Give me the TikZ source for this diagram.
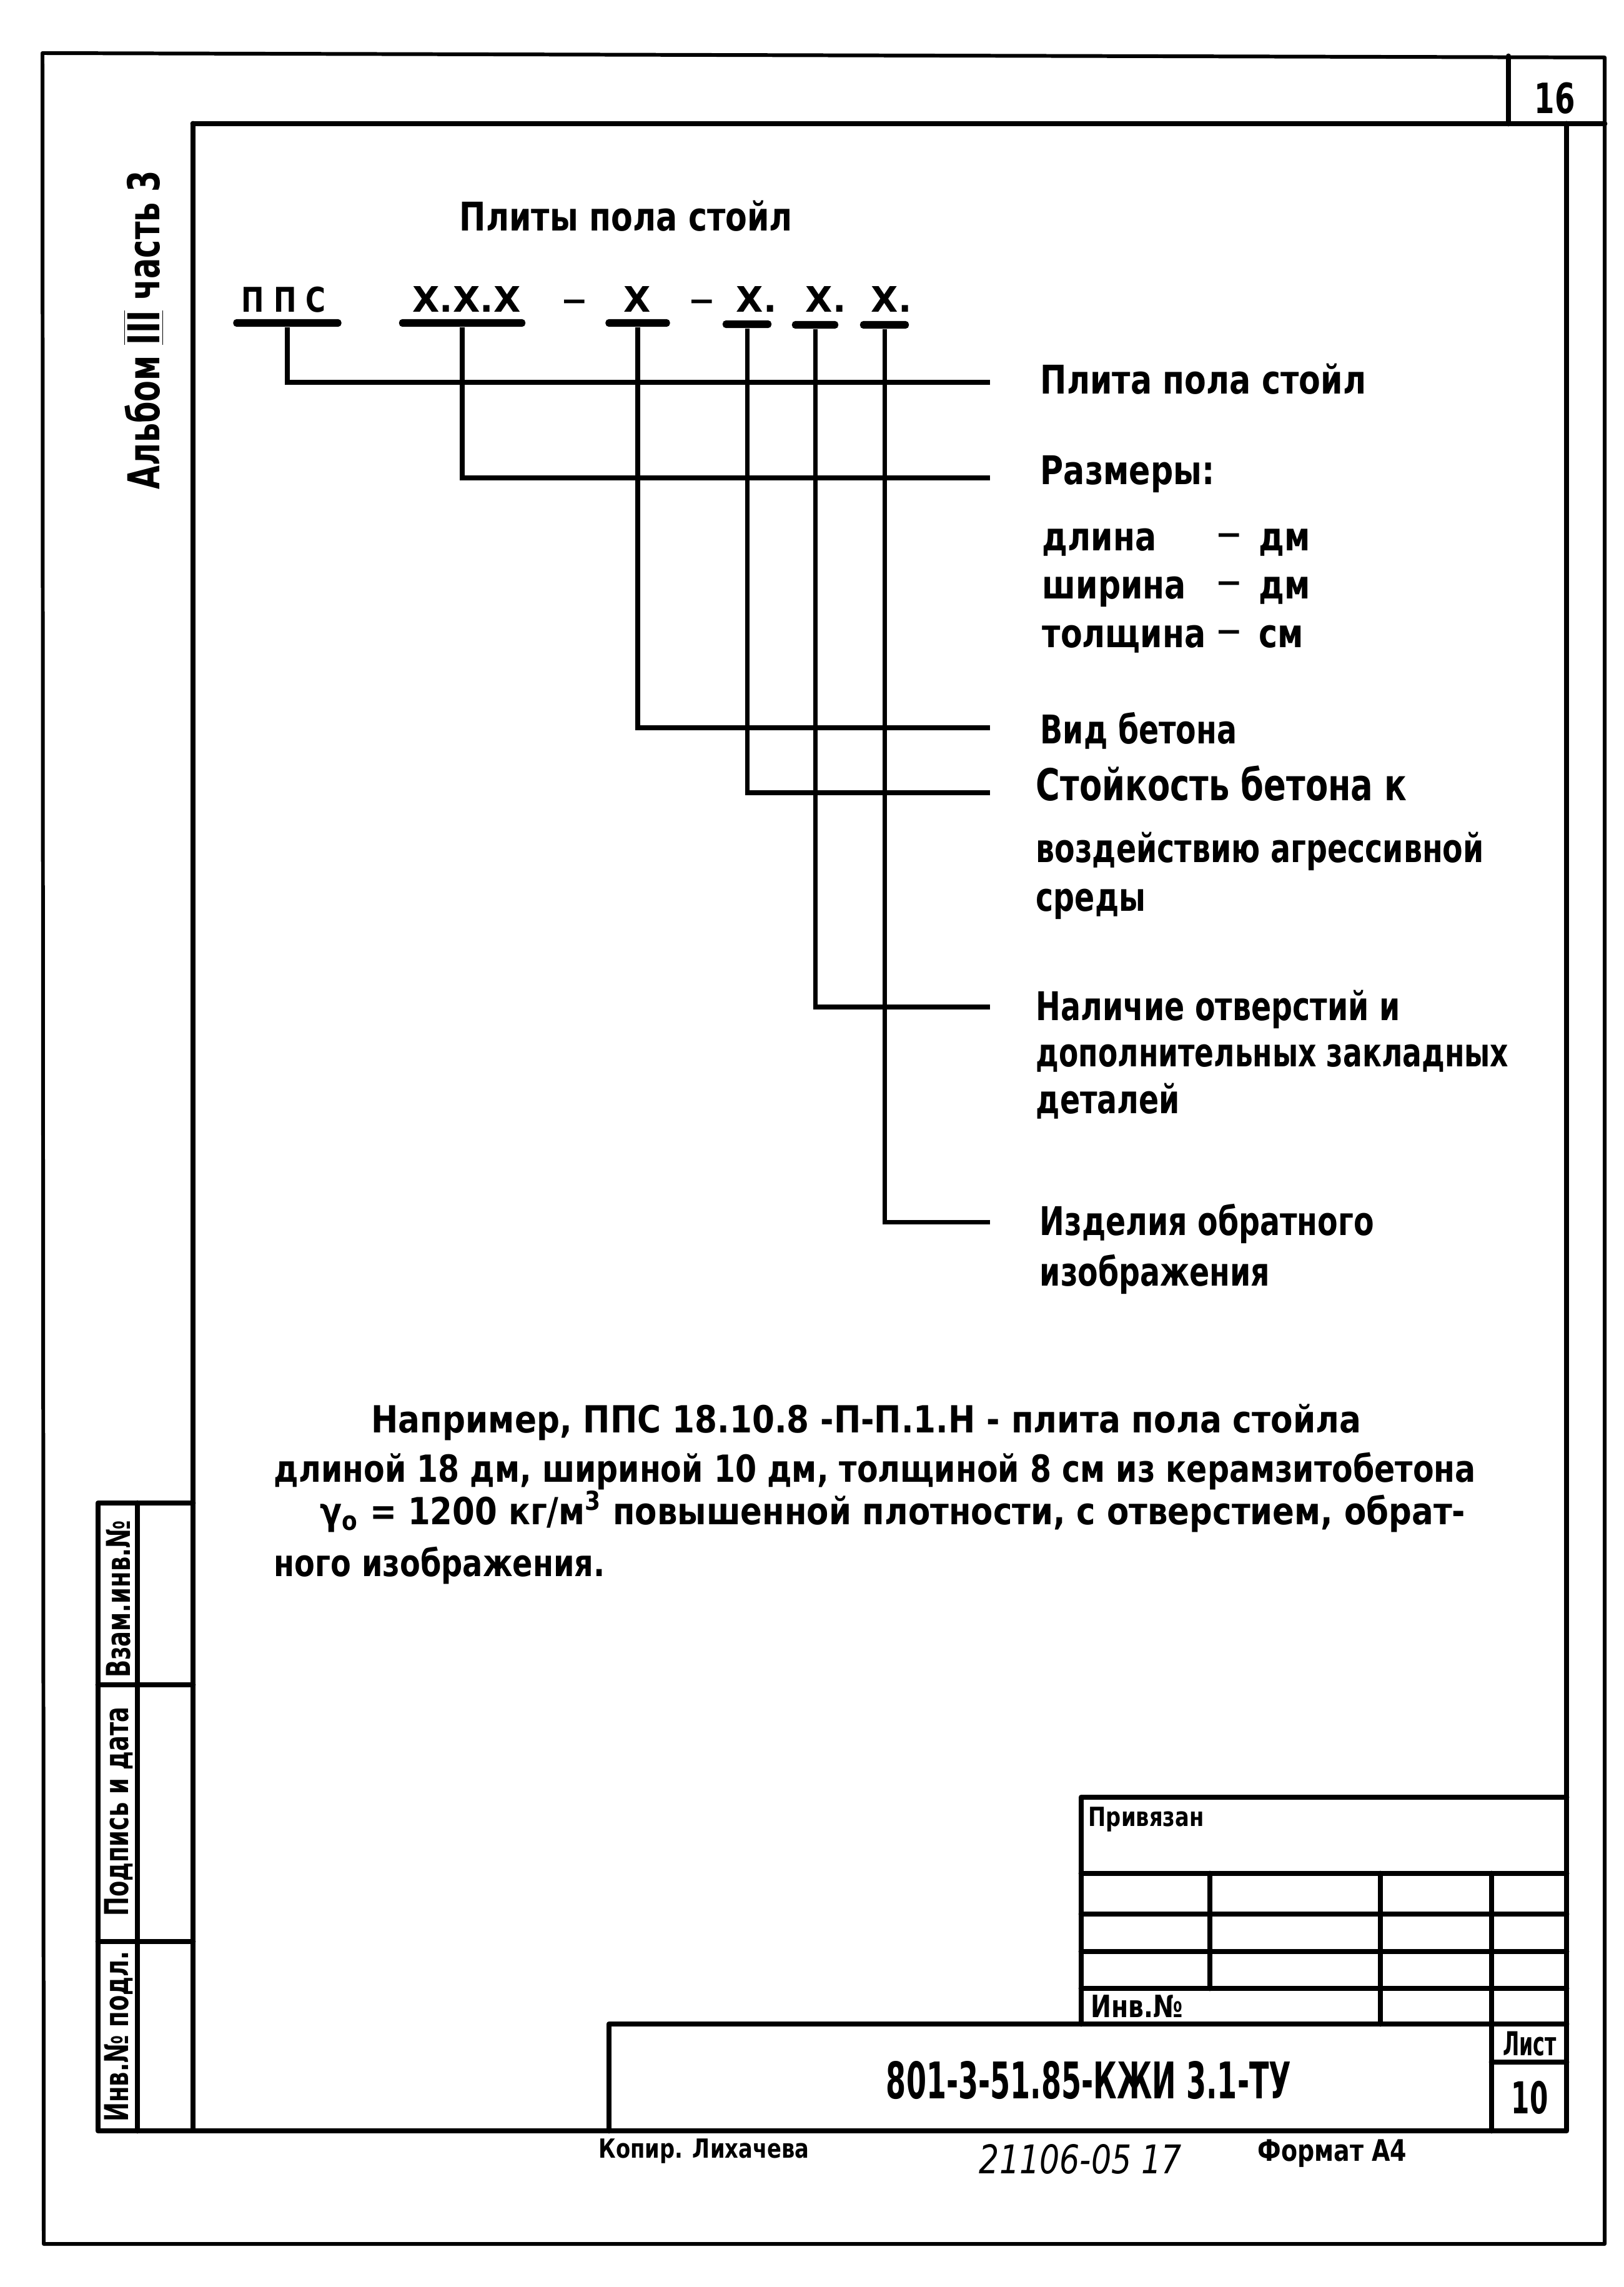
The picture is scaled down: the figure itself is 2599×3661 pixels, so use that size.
\documentclass[tikz,border=0pt]{standalone}
\usepackage{fontspec}
\setmainfont{DejaVu Sans}[FakeStretch=0.8]
\newfontfamily\widefont{DejaVu Sans}
\newfontfamily\lblfont{DejaVu Sans}[FakeStretch=0.75]
\newfontfamily\lblnfont{DejaVu Sans}[FakeStretch=0.72]
\newfontfamily\exafont{DejaVu Sans}[FakeStretch=0.865]
\newfontfamily\exbfont{DejaVu Sans}[FakeStretch=0.82]
\newfontfamily\excfont{DejaVu Sans}[FakeStretch=0.86]
\newfontfamily\midfont{DejaVu Sans}[FakeStretch=0.7]
\newfontfamily\narrowfont{DejaVu Sans}[FakeStretch=0.6]
\newfontfamily\docfont{DejaVu Sans}[FakeStretch=0.57]
\newcommand\myfs[1]{\fontsize{#1}{#1}\selectfont}
\begin{document}
\begin{tikzpicture}[x=0.01cm,y=-0.01cm,
  outer/.style={line width=1.7pt, line join=round},
  frame/.style={line width=2.5pt, line cap=round, line join=round},
  conn/.style={line width=2pt},
  ubar/.style={fill=black, draw=none, minimum height=0.12cm, inner sep=0pt, rounded corners=0.05cm},
  lbl/.style={anchor=base west, inner sep=0pt, font=\bfseries\myfs{18}},
  lblb/.style={anchor=base west, inner sep=0pt, font=\lblfont\bfseries\myfs{18}},
  ex/.style={anchor=base west, inner sep=0pt},
  code/.style={anchor=base, inner sep=0pt, font=\widefont\bfseries\myfs{16}},
  txt/.style={inner sep=0pt}
]
\useasboundingbox (0,0) rectangle (2599,3661);
\fill[white] (0,0) rectangle (2599,3661);

% ---- frames
\draw[outer] (68,85) -- (2569,92) -- (2569,3592) -- (70,3592) -- cycle;
\draw[frame] (309,198) -- (2569,198);
\draw[frame] (309,198) -- (309,3411) -- (2508,3411) -- (2508,198);
\draw[frame] (2415,90) -- (2415,198);
\node[txt, font=\midfont\bfseries\myfs{19}] (sheetno) at (2489,157) {16};

% ---- side label
\node[txt, rotate=90, font=\midfont\bfseries\myfs{20}] (album) at (230,528) {Альбом $\overline{\underline{\hbox{III}}}$ часть 3};

% ---- side stamp box
\draw[frame] (309,2406) -- (157,2406) -- (157,3411) -- (309,3411);
\draw[frame] (220,2406) -- (220,3411);
\draw[frame] (157,2697) -- (309,2697);
\draw[frame] (157,3108) -- (309,3108);
\node[txt, rotate=90, font=\midfont\bfseries\myfs{15}] (s1) at (190,2560) {Взам.инв.№};
\node[txt, rotate=90, font=\midfont\bfseries\myfs{15}] (s2) at (190,2900) {Подпись и дата};
\node[txt, rotate=90, font=\midfont\bfseries\myfs{15}] (s3) at (190,3260) {Инв.№ подл.};

% ---- title
\node[anchor=base west, inner sep=0pt, font=\bfseries\myfs{18}] (title) at (735,370) {Плиты пола стойл};

% ---- code
\node[code, font=\bfseries\myfs{15.5}] (k1) at (454,500) {П П С};
\node[code] (k2) at (747,500) {Х.Х.Х};
\node[code, font=\bfseries\myfs{13}] (d1) at (920,496) {—};
\node[code] (k3) at (1020,500) {Х};
\node[code, font=\bfseries\myfs{13}] (d2) at (1124,496) {—};
\node[code] (k4) at (1211,500) {Х.};
\node[code] (k5) at (1322,500) {Х.};
\node[code] (k6) at (1427,500) {Х.};

\node[ubar, minimum width=1.73cm] (bar1) at (460,517) {};
\node[ubar, minimum width=2.02cm] (bar2) at (740,517) {};
\node[ubar, minimum width=1.03cm] (bar3) at (1021,517) {};
\node[ubar, minimum width=0.78cm] (bar4) at (1196,519) {};
\node[ubar, minimum width=0.74cm] (bar5) at (1305,520) {};
\node[ubar, minimum width=0.78cm] (bar6) at (1416,520) {};

\coordinate (e1) at (1585,612);
\coordinate (e2) at (1585,765);
\coordinate (e3) at (1585,1165);
\coordinate (e4) at (1585,1269);
\coordinate (e5) at (1585,1612);
\coordinate (e6) at (1585,1956);

\draw[conn] (bar1.south) |- (e1);
\draw[conn] (bar2.south) |- (e2);
\draw[conn] (bar3.south) |- (e3);
\draw[conn] (bar4.south) |- (e4);
\draw[conn] (bar5.south) |- (e5);
\draw[conn] (bar6.south) |- (e6);

% ---- labels
\node[lbl] (l1) at (1665,630) {Плита пола стойл};
\node[lbl] (l2) at (1665,775) {Размеры:};
\node[lbl] (l2a) at (1668,881) {длина};
\node[lbl] (l2b) at (1668,958) {ширина};
\node[lbl] (l2c) at (1668,1036) {толщина};
\node[lbl, anchor=base, font=\bfseries\myfs{13}] (m1) at (1968,869) {—};
\node[lbl, anchor=base, font=\bfseries\myfs{13}] (m2) at (1968,946) {—};
\node[lbl, anchor=base, font=\bfseries\myfs{13}] (m3) at (1968,1024) {—};
\node[lbl] (u1) at (2015,881) {дм};
\node[lbl] (u2) at (2015,958) {дм};
\node[lbl] (u3) at (2015,1036) {см};
\node[lblb] (l3) at (1665,1190) {Вид бетона};
\node[lblb, font=\lblfont\bfseries\myfs{20}] (l4) at (1658,1281) {Стойкость бетона к};
\node[lblb] (l4b) at (1658,1380) {воздействию агрессивной};
\node[lblb] (l4c) at (1658,1458) {среды};
\node[lblb] (l5) at (1658,1633) {Наличие отверстий и};
\node[lblb, font=\lblnfont\bfseries\myfs{18}] (l5b) at (1658,1707) {дополнительных закладных};
\node[lblb] (l5c) at (1658,1782) {деталей};
\node[lblb] (l6) at (1664,1977) {Изделия обратного};
\node[lblb] (l6b) at (1664,2058) {изображения};

% ---- example
\node[ex, font=\exafont\bfseries\myfs{17}] (x1) at (594,2293) {Например, ППС 18.10.8 -П-П.1.Н - плита пола стойла};
\node[ex, font=\exbfont\bfseries\myfs{17}] (x2) at (438,2372) {длиной 18 дм, шириной 10 дм, толщиной 8 см из керамзитобетона};
\node[ex, font=\excfont\bfseries\myfs{17}] (x3) at (512,2440) {γ\textsubscript{o} = 1200 кг/м\textsuperscript{3} повышенной плотности, с отверстием, обрат-};
\node[ex, font=\bfseries\myfs{17}] (x4) at (438,2523) {ного изображения.};

% ---- title block
\draw[frame] (975,3411) -- (975,3240) -- (2508,3240);
\draw[frame] (1731,3240) -- (1731,2877) -- (2508,2877);
\foreach \yy in {2999,3064,3124,3183} \draw[frame] (1731,\yy) -- (2508,\yy);
\draw[frame] (1937,2999) -- (1937,3183);
\draw[frame] (2210,2999) -- (2210,3240);
\draw[frame] (2388,2999) -- (2388,3411);
\draw[frame] (2388,3301) -- (2508,3301);

\node[anchor=base west, inner sep=0pt, font=\bfseries\myfs{12}] (priv) at (1742,2923) {Привязан};
\node[anchor=base west, inner sep=0pt, font=\bfseries\myfs{14}] (inv) at (1746,3229) {Инв.№};
\node[txt, font=\narrowfont\bfseries\myfs{15}] (list) at (2449,3272) {Лист};
\node[txt, font=\narrowfont\bfseries\myfs{20}] (listno) at (2449,3358) {10};
\node[txt, font=\docfont\bfseries\myfs{23}] (doc) at (1743,3330) {801-3-51.85-КЖИ 3.1-ТУ};

\node[txt, font=\bfseries\myfs{12}] (copy) at (1127,3443) {Копир. Лихачева};
\node[txt, font=\itshape\myfs{18}] (num) at (1730,3456) {21106-05 17};
\node[txt, font=\bfseries\myfs{13.5}] (fmt) at (2133,3447) {Формат А4};
\end{tikzpicture}
\end{document}
